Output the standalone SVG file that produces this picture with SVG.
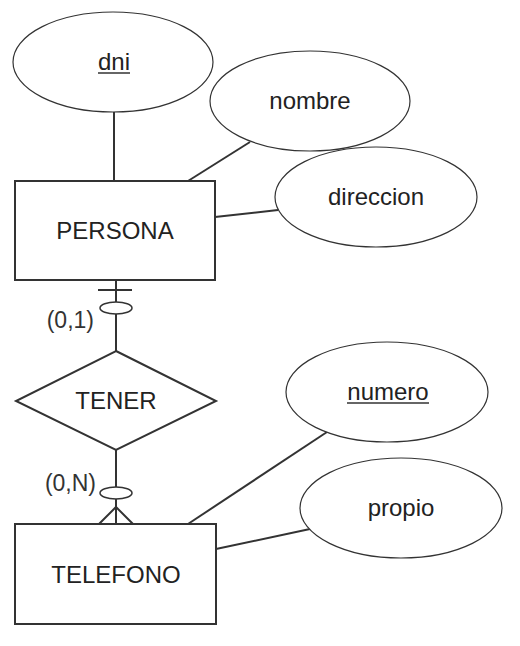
<svg xmlns="http://www.w3.org/2000/svg" width="520" height="646" viewBox="0 0 520 646">
<style>
  .shape { fill: #ffffff; stroke: #333333; }
  .ent { stroke-width: 2; }
  .att { stroke-width: 1.2; }
  .lbl { font-family: "Liberation Sans", Arial, sans-serif; font-size: 24px; fill: #222222; text-anchor: middle; }
  .card { font-family: "Liberation Sans", Arial, sans-serif; font-size: 23px; fill: #333333; text-anchor: end; }
  .ln { stroke: #333333; stroke-width: 2; fill: none; }
  .ul { stroke: #333333; stroke-width: 1.5; }
  .opt { fill: #ffffff; stroke: #333333; stroke-width: 1.5; }
</style>
<rect width="520" height="646" fill="#ffffff"/>
<g id="connectors">
  <line class="ln" x1="114" y1="112" x2="114" y2="181"/>
  <line class="ln" x1="250" y1="142" x2="188" y2="181"/>
  <line class="ln" x1="215" y1="217" x2="278" y2="210"/>
  <line class="ln" x1="327" y1="432" x2="188" y2="524"/>
  <line class="ln" x1="216" y1="549" x2="310" y2="529"/>
  <line class="ln" x1="116" y1="280" x2="116" y2="351"/>
  <line class="ln" x1="98" y1="290" x2="132" y2="290"/>
  <ellipse class="opt" cx="116" cy="308" rx="16" ry="6"/>
  <text class="card" x="94" y="328">(0,1)</text>
  <line class="ln" x1="116" y1="450" x2="116" y2="525"/>
  <ellipse class="opt" cx="116" cy="493" rx="16" ry="6"/>
  <path class="ln" d="M98,525 L116,507 L134,525"/>
  <text class="card" x="96" y="491">(0,N)</text>
</g>
<g id="dni">
  <ellipse class="shape att" cx="113" cy="62" rx="100" ry="50"/>
  <text class="lbl" x="114" y="70">dni</text>
  <line class="ul" x1="98" y1="73" x2="130" y2="73"/>
</g>
<g id="nombre">
  <ellipse class="shape att" cx="310" cy="101" rx="100" ry="50"/>
  <text class="lbl" x="310" y="109">nombre</text>
</g>
<g id="direccion">
  <ellipse class="shape att" cx="376" cy="197" rx="101" ry="50"/>
  <text class="lbl" x="376" y="205">direccion</text>
</g>
<g id="persona">
  <rect class="shape ent" x="15" y="181" width="200" height="99"/>
  <text class="lbl" x="115" y="239">PERSONA</text>
</g>
<g id="tener">
  <polygon class="shape ent" points="116,351 216,401 116,450 16,401"/>
  <text class="lbl" x="116" y="409">TENER</text>
</g>
<g id="numero">
  <ellipse class="shape att" cx="387" cy="392" rx="101" ry="50"/>
  <text class="lbl" x="388" y="400">numero</text>
  <line class="ul" x1="347" y1="403" x2="429" y2="403"/>
</g>
<g id="propio">
  <ellipse class="shape att" cx="401" cy="508" rx="101" ry="50"/>
  <text class="lbl" x="401" y="516">propio</text>
</g>
<g id="telefono">
  <rect class="shape ent" x="15" y="524" width="201" height="100"/>
  <text class="lbl" x="116" y="583">TELEFONO</text>
</g>
</svg>
